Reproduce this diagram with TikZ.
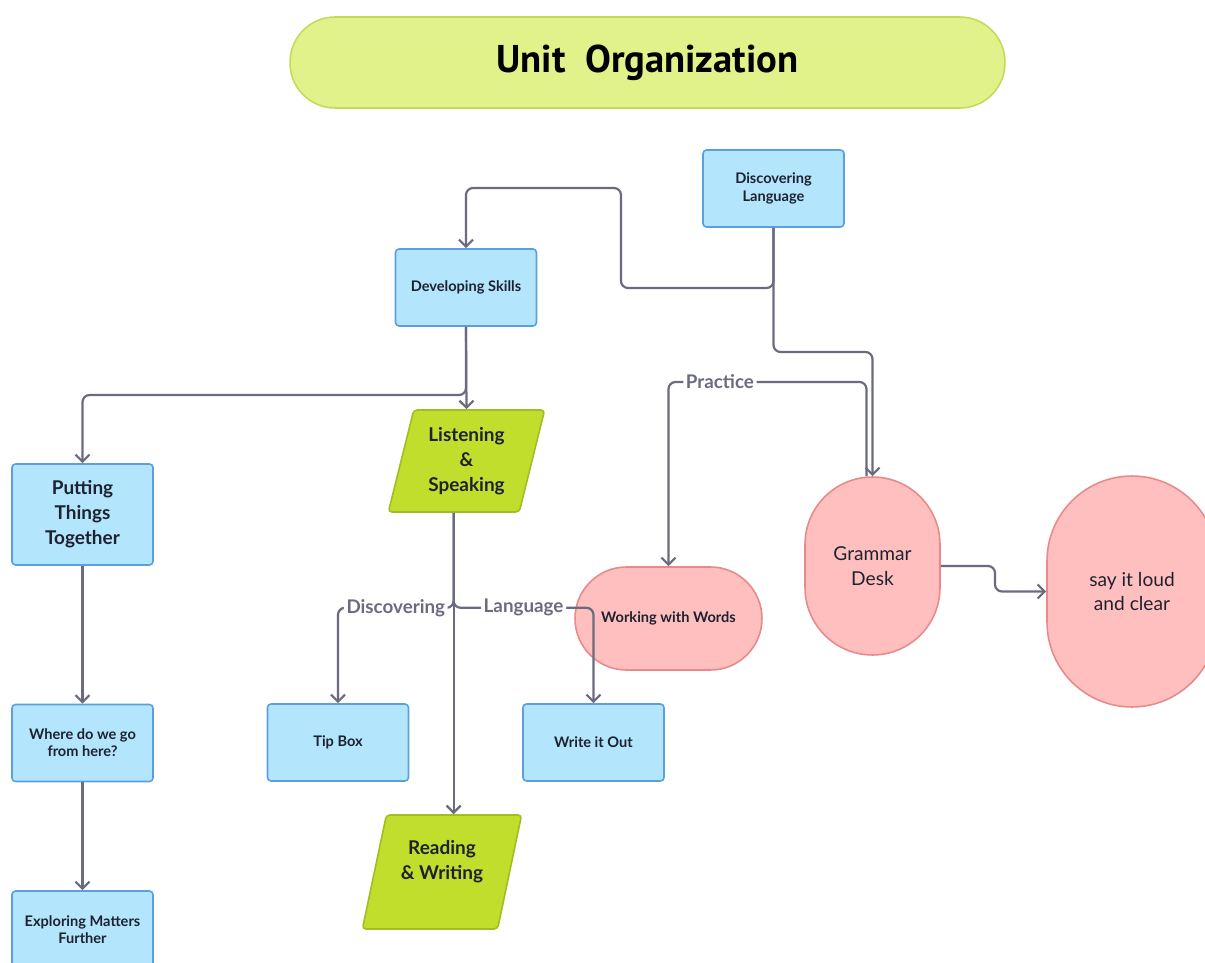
\documentclass[tikz,border=0pt]{standalone}
\usepackage{fontspec}
\setmainfont{Lato}
\newfontfamily\titlefont{PT Sans}
\usepackage{tikz}
\usetikzlibrary{shapes.geometric, arrows.meta}

\definecolor{bluefill}{HTML}{B3E5FC}
\definecolor{blueline}{HTML}{5A9FE0}
\definecolor{limefill}{HTML}{C1DE2C}
\definecolor{limeline}{HTML}{A0BE22}
\definecolor{pinkfill}{HTML}{FFBFBF}
\definecolor{pinkline}{HTML}{E98A8A}
\definecolor{titlefill}{HTML}{E2F28A}
\definecolor{titleline}{HTML}{C3DB5A}
\definecolor{linec}{HTML}{6B6B80}
\definecolor{inkc}{HTML}{1E2230}

\begin{document}
\begin{tikzpicture}[x=0.02cm, y=-0.02cm,
  box/.style={draw=blueline, fill=bluefill, line width=0.9pt, rounded corners=2pt,
    minimum width=2.82cm, minimum height=1.54cm, align=center, text=inkc,
    font=\bfseries\fontsize{8.3}{9.8}\selectfont},
  bigbox/.style={box, minimum height=2.02cm, font=\bfseries\fontsize{10.8}{14.2}\selectfont},
  para/.style={trapezium, trapezium left angle=75, trapezium right angle=105,
    trapezium stretches=true, draw=limeline, fill=limefill, line width=0.9pt,
    rounded corners=2pt, align=center, text=inkc, font=\bfseries\fontsize{10.8}{14.2}\selectfont},
  pill/.style={draw=pinkline, fill=pinkfill, line width=0.9pt, align=center, text=inkc},
  conn/.style={draw=linec, line width=1.25pt, rounded corners=4pt, ->},
  lbl/.style={fill=white, text=linec, inner sep=1.5pt, font=\bfseries\fontsize{10.7}{12}\selectfont},
  >={Straight Barb[length=4pt, width=8pt]}]

\useasboundingbox (0,0) rectangle (1205,963);
\clip (0,0) rectangle (1205,963);
\fill[white] (0,0) rectangle (1205,963);

\node[draw=titleline, fill=titlefill, line width=0.9pt, rounded corners=0.9cm,
  minimum width=14.3cm, minimum height=1.82cm,
  font=\titlefont\bfseries\fontsize{22}{26}\selectfont] (title) at (647.5,62.5) {Unit\ \ Organization};

\node[box] (disclang) at (773.5,188.5) {Discovering\\Language};
\node[box] (devskills) at (466,287.5) {Developing Skills};
\node[para, minimum width=3.14cm, minimum height=2.04cm] (listen) at (466.5,461) {Listening\\\&\\Speaking};
\node[bigbox] (putting) at (82.5,514.5) {Putting\\Things\\Together};
\node[box] (where) at (82.5,743) {Where do we go\\from here?};
\node[box] (exploring) at (82.5,929.5) {Exploring Matters\\Further};
\node[box] (tipbox) at (338,742.5) {Tip Box};
\node[box] (writeout) at (593.5,742.5) {Write it Out};
\node[para, minimum width=3.2cm, minimum height=2.28cm] (reading) at (442,872) {Reading\\\& Writing\\\mbox{}};
\node[pill, rounded corners=1.03cm, minimum width=3.74cm, minimum height=2.06cm,
  font=\bfseries\fontsize{8.3}{9.8}\selectfont] (words) at (668.5,618.5) {Working with Words};
\node[pill, rounded corners=1.35cm, minimum width=2.7cm, minimum height=3.56cm,
  font=\fontsize{10.9}{14.2}\selectfont] (grammar) at (872.5,566) {Grammar\\Desk};
\node[pill, rounded corners=1.7cm, minimum width=3.4cm, minimum height=4.62cm,
  font=\fontsize{10.9}{14.2}\selectfont] (loud) at (1132,591.5) {say it loud\\and clear};

\draw[conn] (disclang.south) |- (621,288) |- (466,188) -- (devskills.north);
\draw[conn] (disclang.south) |- (872.5,352) -- (grammar.north);
\draw[conn] ([xshift=-0.12cm]grammar.north) -- (866.5,382) -| node[lbl, pos=0.37]{Practice} (words.north);
\draw[conn] (devskills.south) -- (listen.north);
\draw[conn] (devskills.south) -- (466,395) -| (putting.north);
\draw[conn] (putting.south) -- (where.north);
\draw[conn] (where.south) -- (exploring.north);
\draw[conn] (listen.bottom side) -- (listen.bottom side |- reading.north);
\draw[conn] (listen.bottom side) -- ++(0,95) -| node[lbl, pos=0.25]{Discovering} (tipbox.north);
\draw[conn] (listen.bottom side) -- ++(0,95) -| node[lbl, pos=0.25]{Language} (writeout.north);
\draw[conn] (grammar.east) -- (995,566) |- (loud.west);

\end{tikzpicture}
\end{document}
